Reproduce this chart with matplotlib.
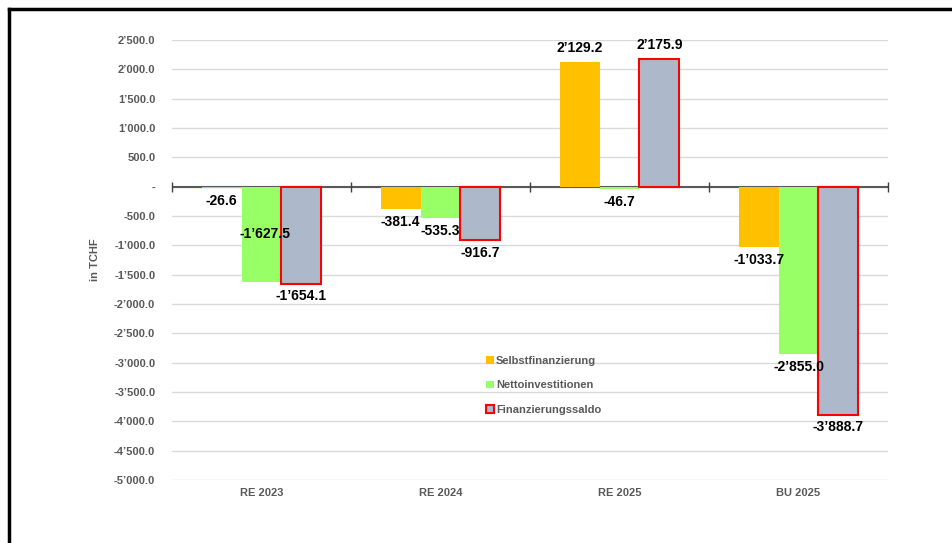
import matplotlib.pyplot as plt
from matplotlib.lines import Line2D
from matplotlib.patches import Patch
import numpy as np

plt.rcParams['font.family'] = ['Liberation Sans', 'DejaVu Sans']

categories = ['RE 2023', 'RE 2024', 'RE 2025', 'BU 2025']
selbst = [-26.6, -381.4, 2129.2, -1033.7]
netto = [-1627.5, -535.3, -46.7, -2855.0]
saldo = [-1654.1, -916.7, 2175.9, -3888.7]
series_names = ['Selbstfinanzierung', 'Nettoinvestitionen', 'Finanzierungssaldo']
# where the value label sits for the green series ('end' or 'center')
netto_label_pos = ['center', 'end', 'end', 'end']


def fmt(v):
    s = f"{abs(v):,.1f}".replace(',', '\u2019')
    return ('-' if v < 0 else '') + s


def tick_fmt(v, pos):
    if abs(v) < 1e-9:
        return '-'
    return fmt(v)


fig = plt.figure(figsize=(9.53, 5.43), dpi=100)
ax = fig.add_axes([0.1805, 0.116, 0.7513, 0.8103])

x = np.arange(len(categories))
w = 0.223
grey = '#595959'

b1 = ax.bar(x - w, selbst, w, color='#FFC000', zorder=3)
b2 = ax.bar(x, netto, w, color='#99FF66', zorder=3)
b3 = ax.bar(x + w, saldo, w, color='#ADB9CA', edgecolor='#FF0000', linewidth=1.5, zorder=3)

ax.set_ylim(-5000, 2500)
ax.set_xlim(-0.5, len(categories) - 0.5)
ax.set_yticks(np.arange(-5000, 2501, 500))
ax.yaxis.set_major_formatter(plt.FuncFormatter(tick_fmt))
ax.grid(axis='y', color='#D9D9D9', linewidth=1, zorder=0)
ax.set_axisbelow(True)
for sp in ax.spines.values():
    sp.set_visible(False)
ax.tick_params(axis='y', length=0, pad=12, labelcolor=grey, labelsize=8)
ax.tick_params(axis='x', length=0, pad=6, labelcolor=grey, labelsize=8)
for lab in ax.get_yticklabels() + ax.get_xticklabels():
    lab.set_fontweight('bold')
ax.set_xticks(x)
ax.set_xticklabels(categories)
ax.set_ylabel('in TCHF', color=grey, fontsize=8, fontweight='bold', labelpad=10)

# zero line with category separators
ax.axhline(0, color=grey, linewidth=1.5, zorder=2)
seps = np.arange(len(categories) + 1) - 0.5
ax.plot(seps, np.zeros_like(seps), linestyle='none', marker='|', markersize=6.5,
        color='#404040', markeredgewidth=1, zorder=2, clip_on=False)


def label(bars, vals, modes=None):
    for i, (b, v) in enumerate(zip(bars, vals)):
        cx = b.get_x() + b.get_width() / 2
        mode = modes[i] if modes else 'end'
        if mode == 'center':
            ax.text(cx + 0.02, v / 2, fmt(v), ha='center', va='center',
                    fontsize=10, fontweight='bold', zorder=5)
        elif v >= 0:
            ax.annotate(fmt(v), (cx, v), xytext=(0, 5), textcoords='offset points',
                        ha='center', va='bottom', fontsize=10, fontweight='bold', zorder=5)
        else:
            ax.annotate(fmt(v), (cx, v), xytext=(0, -4), textcoords='offset points',
                        ha='center', va='top', fontsize=10, fontweight='bold', zorder=5)


label(b1, selbst)
label(b2, netto, netto_label_pos)
label(b3, saldo)

handles = [Patch(facecolor='#FFC000'), Patch(facecolor='#99FF66'),
           Patch(facecolor='#ADB9CA', edgecolor='#FF0000', linewidth=1.5)]
leg = ax.legend(handles, series_names, loc='upper left', bbox_to_anchor=(0.425, 0.305),
                frameon=False, handlelength=0.65, handleheight=0.65, handletextpad=0.2,
                labelspacing=1.3, prop={'size': 8, 'weight': 'bold'})
for t in leg.get_texts():
    t.set_color(grey)

# partial frame (top and left)
fig.add_artist(Line2D([9 / 953, 1], [1 - 9 / 543, 1 - 9 / 543], color='black', linewidth=2.5))
fig.add_artist(Line2D([9 / 953, 9 / 953], [0, 1 - 9 / 543], color='black', linewidth=2.5))

fig.savefig('out.png', dpi=100)
